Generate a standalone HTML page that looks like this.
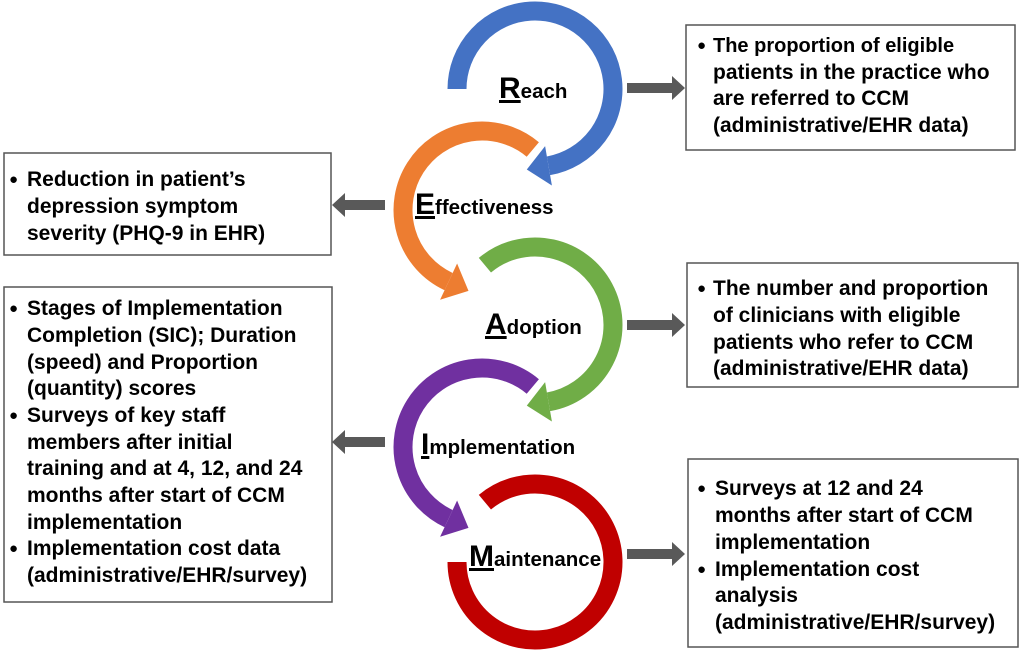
<!DOCTYPE html>
<html><head><meta charset="utf-8"><style>
html,body{margin:0;padding:0;background:#fff;}
svg{display:block;}
text{font-family:"Liberation Sans",Arial,sans-serif;font-weight:bold;fill:#000;}
.t{font-size:21px;}
.l{font-size:20.5px;}
.b{font-size:30px;text-decoration:underline;}
.d{font-size:15px;}
</style></head><body>
<svg width="1024" height="651" viewBox="0 0 1024 651" xmlns="http://www.w3.org/2000/svg">
<g fill="#fff" stroke="#555" stroke-width="1.5">
<rect x="686" y="25" width="329" height="125"/>
<rect x="4" y="153" width="327" height="102"/>
<rect x="687" y="263" width="331" height="124"/>
<rect x="4" y="287" width="328" height="315"/>
<rect x="688" y="459" width="330" height="188"/>
</g>
<g fill="#595959">
<polygon points="627,83 672,83 672,76 685,88 672,100 672,93 627,93"/>
<polygon points="627,320 672,320 672,313 685,325 672,337 672,330 627,330"/>
<polygon points="627,549 672,549 672,542 685,554 672,566 672,559 627,559"/>
<polygon points="385,200 345,200 345,193 332,205 345,217 345,210 385,210"/>
<polygon points="385,437 345,437 345,430 332,442 345,454 345,447 385,447"/>
</g>
<g fill="none" stroke-width="19">
<path d="M457,89 A78,78 0 1 1 548.5,165.8" stroke="#4472c4"/>
<path d="M532.8,149.5 A79,79 0 1 0 448.6,281.6" stroke="#ed7d31"/>
<path d="M484.9,265.2 A78,78 0 1 1 548.5,401.8" stroke="#70ad47"/>
<path d="M532.8,386.5 A79,79 0 1 0 448.6,518.6" stroke="#7030a0"/>
<path d="M484.9,502.2 A78,78 0 1 1 457,562" stroke="#c00000"/>
</g>
<polygon points="551.9,185.5 545.1,146.1 526.8,169.5" fill="#4472c4"/>
<polygon points="440.1,299.7 457.1,263.5 468.5,290.9" fill="#ed7d31"/>
<polygon points="551.9,421.5 545.1,382.1 526.8,405.6" fill="#70ad47"/>
<polygon points="440.1,536.7 457.1,500.5 468.5,527.9" fill="#7030a0"/>
<text x="499" y="98" class="l"><tspan class="b">R</tspan>each</text>
<text x="415" y="214" class="l"><tspan class="b">E</tspan>ffectiveness</text>
<text x="485" y="334" class="l"><tspan class="b">A</tspan>doption</text>
<text x="421" y="454" class="l"><tspan class="b">I</tspan>mplementation</text>
<text x="469" y="566" class="l"><tspan class="b">M</tspan>aintenance</text>
<g class="d">
<text x="697" y="50">●</text>
<text x="9" y="184">●</text>
<text x="697" y="293">●</text>
<text x="9" y="313">●</text>
<text x="9" y="420">●</text>
<text x="9" y="553">●</text>
<text x="697" y="493">●</text>
<text x="697" y="574">●</text>
</g>
<g class="t">
<text x="713" y="52" font-size="20">The proportion of eligible</text>
<text x="713" y="79">patients in the practice who</text>
<text x="713" y="105">are referred to CCM</text>
<text x="713" y="132">(administrative/EHR data)</text>

<text x="27" y="186">Reduction in patient’s</text>
<text x="27" y="213">depression symptom</text>
<text x="27" y="240">severity (PHQ-9 in EHR)</text>

<text x="713" y="295">The number and proportion</text>
<text x="713" y="322">of clinicians with eligible</text>
<text x="713" y="349">patients who refer to CCM</text>
<text x="713" y="375">(administrative/EHR data)</text>

<text x="27" y="315">Stages of Implementation</text>
<text x="27" y="342">Completion (SIC); Duration</text>
<text x="27" y="369">(speed) and Proportion</text>
<text x="27" y="395">(quantity) scores</text>
<text x="27" y="422">Surveys of key staff</text>
<text x="27" y="449">members after initial</text>
<text x="27" y="475">training and at 4, 12, and 24</text>
<text x="27" y="502">months after start of CCM</text>
<text x="27" y="529">implementation</text>
<text x="27" y="555">Implementation cost data</text>
<text x="27" y="582">(administrative/EHR/survey)</text>

<text x="715" y="495">Surveys at 12 and 24</text>
<text x="715" y="522">months after start of CCM</text>
<text x="715" y="549">implementation</text>
<text x="715" y="576">Implementation cost</text>
<text x="715" y="602">analysis</text>
<text x="715" y="629">(administrative/EHR/survey)</text>
</g>
</svg>
</body></html>
